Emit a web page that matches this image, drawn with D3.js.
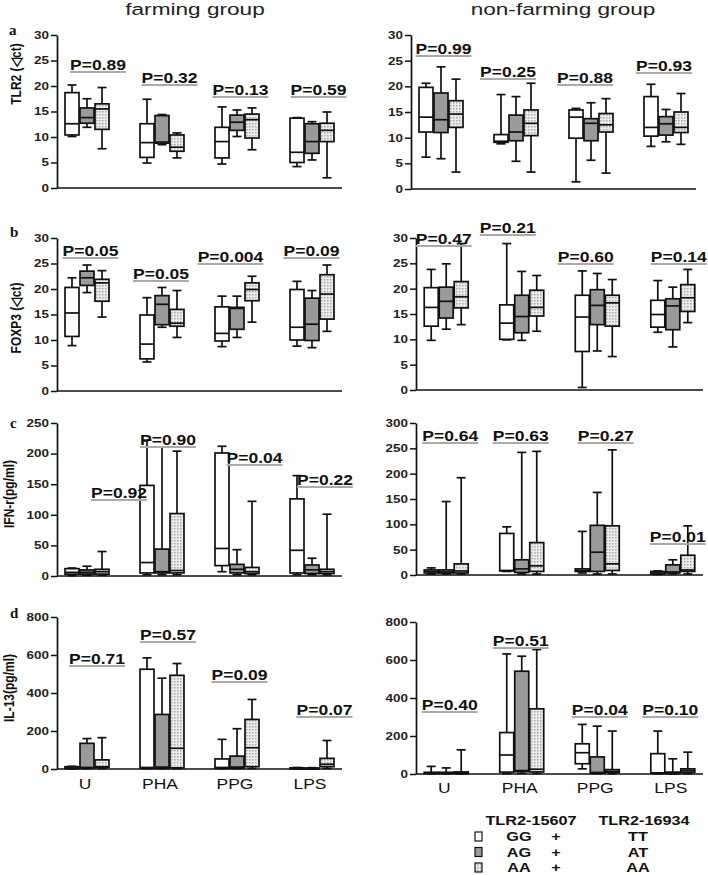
<!DOCTYPE html>
<html><head><meta charset="utf-8">
<script src="https://cdn.jsdelivr.net/npm/d3@7"></script>
<style>body{margin:0;background:#fff}svg{display:block}</style>
</head><body>
<script>
// ---------- DATA ----------
const categories = ["U", "PHA", "PPG", "LPS"];
const genotypes = ["GG", "AG", "AA"];
// each box: [lower whisker, Q1, median, Q3, upper whisker]; per category -> [GG, AG, AA]
const tlr2Farming = [
  [[10.1,10.4,12.6,18.7,20.2],[11.9,12.7,13.8,15.7,17.5],[7.7,11.5,15.5,16.5,19.7]],
  [[4.9,6.0,8.9,12.6,17.4],[8.5,8.8,9.0,14.2,14.4],[5.9,7.2,8.0,10.4,10.8]],
  [[4.7,5.9,9.1,11.9,15.9],[10.1,11.3,12.9,14.3,15.3],[7.5,9.8,13.4,14.5,15.7]],
  [[4.2,5.0,7.0,13.7,13.8],[5.5,6.8,9.1,12.6,13.0],[2.0,9.1,11.3,12.7,14.9]]
];
const tlr2NonFarming = [
  [[6.2,11.1,14.0,19.8,20.6],[5.9,11.0,13.5,18.7,23.8],[3.3,12.0,14.6,17.2,21.4]],
  [[8.8,9.1,9.3,10.6,18.4],[5.4,9.4,11.1,14.4,18.0],[3.3,10.4,12.8,15.4,20.6]],
  [[1.4,9.9,14.0,15.4,15.7],[5.6,9.4,12.8,13.7,16.8],[3.1,11.1,12.5,14.7,17.6]],
  [[8.3,10.3,12.0,18.0,20.4],[9.2,10.5,12.7,14.1,15.5],[8.7,11.0,12.0,15.0,18.6]]
];
const foxp3Farming = [
  [[8.9,10.7,15.3,20.3,22.2],[19.3,20.7,22.2,23.5,24.7],[14.5,17.6,21.2,21.9,23.6]],
  [[5.7,6.3,9.2,14.9,18.3],[12.5,13.0,17.0,18.7,20.3],[10.5,12.7,13.3,16.0,19.7]],
  [[8.7,9.8,11.3,16.5,18.6],[10.5,12.1,16.2,16.4,18.6],[13.5,17.7,19.9,21.2,22.5]],
  [[8.8,10.0,12.5,19.9,21.5],[8.5,9.9,13.1,18.2,19.7],[11.7,14.1,19.0,22.8,24.7]]
];
const foxp3NonFarming = [
  [[9.8,12.6,16.3,20.2,23.8],[12.0,14.2,17.5,20.3,24.9],[12.9,16.2,18.4,21.4,28.9]],
  [[9.9,10.0,13.2,16.8,28.9],[9.8,11.3,14.5,18.7,23.4],[11.6,14.6,16.3,19.7,22.6]],
  [[0.5,7.6,14.4,18.7,23.5],[7.7,12.9,16.7,19.8,23.0],[6.6,12.6,17.2,18.7,21.8]],
  [[11.4,12.4,14.9,17.7,21.6],[8.5,11.9,16.6,18.0,20.3],[13.3,15.5,18.2,20.8,23.8]]
];
const ifnFarming = [
  [[0.5,3,6,12,13],[1,3,6,10,16],[1,3,7,11,40]],
  [[2,5,22,148,222],[2,5,7,44,211],[2,5,9,102,204]],
  [[7,17,45,201,212],[2,5,11,19,43],[2,4,7,14,122]],
  [[2,5,42,126,164],[2,4,10,18,29],[2,4,7,11,101]]
];
const ifnNonFarming = [
  [[2,4,7,10,14],[2,4,6,10,145],[2,4,8,22,192]],
  [[7,8,9,82,95],[2,5,12,30,242],[2,7,18,64,244]],
  [[4,7,9,12,86],[2,7,45,98,163],[2,9,22,97,247]],
  [[1,2,4,7,8],[2,4,6,20,30],[2,7,10,39,97]]
];
const il13Farming = [
  [[0,2,5,12,14],[2,5,8,135,160],[3,8,12,48,165]],
  [[2,4,8,525,585],[2,4,10,287,478],[2,6,109,493,555]],
  [[2,4,8,53,156],[2,4,10,68,212],[3,12,112,261,366]],
  [[0,1,3,6,8],[0,1,3,5,7],[3,12,25,56,150]]
];
const il13NonFarming = [
  [[1,2,5,9,40],[1,2,5,9,32],[1,2,5,11,127]],
  [[2,10,100,218,632],[3,12,18,541,620],[3,11,25,343,655]],
  [[27,54,112,159,261],[2,4,8,90,252],[2,9,14,23,226]],
  [[1,3,6,107,226],[1,2,5,10,80],[2,9,18,27,115]]
];
const tlr2FarmingP = ["0.89","0.32","0.13","0.59"];
const tlr2NonFarmingP = ["0.99","0.25","0.88","0.93"];
const foxp3FarmingP = ["0.05","0.05","0.004","0.09"];
const foxp3NonFarmingP = ["0.47","0.21","0.60","0.14"];
const ifnFarmingP = ["0.92","0.90","0.04","0.22"];
const ifnNonFarmingP = ["0.64","0.63","0.27","0.01"];
const il13FarmingP = ["0.71","0.57","0.09","0.07"];
const il13NonFarmingP = ["0.40","0.51","0.04","0.10"];
const ctTicks = [0,5,10,15,20,25,30];
const ifnFarmingTicks = [0,50,100,150,200,250];
const ifnNonFarmingTicks = [0,50,100,150,200,250,300];
const il13Ticks = [0,200,400,600,800];
const groupTitles = ["farming group", "non-farming group"];
const panelLetters = ["a","b","c","d"];
const yTitles = ["TLR2 (\u25C1ct)", "FOXP3 (\u25C1ct)", "IFN-r(pg/ml)", "IL-13(pg/ml)"];
const legendHeader = ["TLR2-15607", "TLR2-16934"];
const legendRows = [["GG","+","TT"],["AG","+","AT"],["AA","+","AA"]];

// ---------- LAYOUT ----------
const W = 708, H = 875, SX = 1.28;
const L = {x0:57, x1:342}, R1 = {x0:411, x1:696}, R = {x0:416, x1:703};
const panels = [
  {data:tlr2Farming, p:tlr2FarmingP, ticks:ctTicks, yt:35, yb:188, ...L, pOff:[11,7.5,3.5,6.5], pY:[70,83,95,95]},
  {data:tlr2NonFarming, p:tlr2NonFarmingP, ticks:ctTicks, yt:35, yb:189, ...R1, pOff:[2.5,-8,-6,-2], pY:[54,77,83,71]},
  {data:foxp3Farming, p:foxp3FarmingP, ticks:ctTicks, yt:238, yb:391, ...L, pOff:[3.5,-1,-6.5,-0.5], pY:[256,279,262,256]},
  {data:foxp3NonFarming, p:foxp3NonFarmingP, ticks:ctTicks, yt:238, yb:390, ...R, pOff:[-2.5,-14,-11.5,6], pY:[244,233,262,262]},
  {data:ifnFarming, p:ifnFarmingP, ticks:ifnFarmingTicks, yt:423, yb:576, ...L, pOff:[32,6,17.5,13], pY:[498,445,463,485]},
  {data:ifnNonFarming, p:ifnNonFarmingP, ticks:ifnNonFarmingTicks, yt:423, yb:575, ...R, pOff:[4,-1,8.5,5], pY:[441,441,441,542]},
  {data:il13Farming, p:il13FarmingP, ticks:il13Ticks, yt:617, yb:769, ...L, pOff:[10,6,2.5,12.5], pY:[664,640,680,715], xLab:789},
  {data:il13NonFarming, p:il13NonFarmingP, ticks:il13Ticks, yt:622, yb:774, ...R, pOff:[3.5,-1,2.5,-2.5], pY:[710,646,715,715], xLab:793}
];
const yTitlePos = [{x:21,y:74},{x:21,y:318},{x:14,y:494},{x:14,y:688}];
const letterPos = [{x:9,y:35},{x:10,y:237},{x:10,y:428},{x:10,y:618}];

const svg = d3.select("body").append("svg").attr("width", W).attr("height", H);
const defs = svg.append("defs");
const pat = defs.append("pattern").attr("id","dots").attr("width",3).attr("height",3).attr("patternUnits","userSpaceOnUse");
pat.append("rect").attr("width",3).attr("height",3).attr("fill","#ececec");
pat.append("rect").attr("width",1.5).attr("height",1.5).attr("fill","#a8a8a8");
const fills = ["#ffffff", "#9a9a9a", "url(#dots)"];
const FONT = "Liberation Sans, Arial, Helvetica, sans-serif";

function stext(g, x, y, str, o) {
  return g.append("text")
    .attr("transform", `translate(${x},${y}) scale(${o.sx ?? SX},1)`)
    .attr("text-anchor", o.anchor || "start")
    .attr("font-family", o.family || FONT)
    .attr("font-size", o.size)
    .attr("font-weight", o.weight || "normal")
    .attr("fill", o.fill || "#111")
    .text(str);
}

// titles
stext(svg, 195, 15, groupTitles[0], {size:17, anchor:"middle", fill:"#222", sx:1.33});
stext(svg, 563, 15, groupTitles[1], {size:17, anchor:"middle", fill:"#222", sx:1.33});

panels.forEach((P, pi) => {
  const g = svg.append("g");
  const y = d3.scaleLinear().domain([0, d3.max(P.ticks)]).range([P.yb, P.yt]);
  const x = d3.scalePoint().domain(categories).range([P.x0, P.x1]).padding(0.4);
  const off = d3.scalePoint().domain(genotypes).range([-15, 15]);
  const bw = 14, cap = 9;

  // y axis
  const ax = g.append("g").attr("transform", `translate(${P.x0},0)`)
    .call(d3.axisLeft(y).tickValues(P.ticks).tickSize(6).tickSizeOuter(0).tickPadding(2));
  ax.select(".domain").attr("stroke","#111").attr("stroke-width",1.7);
  ax.selectAll(".tick line").attr("stroke","#111").attr("stroke-width",1.5);
  ax.selectAll(".tick text")
    .attr("font-family", FONT).attr("font-size", 10.5).attr("font-weight","bold").attr("fill","#222")
    .attr("x", -8 / SX).attr("transform", `scale(${SX},1)`);
  // x axis line
  g.append("line").attr("x1", P.x0).attr("x2", P.x1).attr("y1", y(0)).attr("y2", y(0))
    .attr("stroke","#111").attr("stroke-width",1.7);

  const labels = g.append("g");
  // boxes
  categories.forEach((c, ci) => {
    genotypes.forEach((gt, gi) => {
      const [lo, q1, md, q3, hi] = P.data[ci][gi];
      const cx = x(c) + off(gt);
      const bg = g.append("g").attr("stroke","#111").attr("stroke-width",1.7);
      bg.append("line").attr("x1",cx).attr("x2",cx).attr("y1",y(lo)).attr("y2",y(hi));
      bg.append("line").attr("x1",cx-cap/2).attr("x2",cx+cap/2).attr("y1",y(hi)).attr("y2",y(hi));
      bg.append("line").attr("x1",cx-cap/2).attr("x2",cx+cap/2).attr("y1",y(lo)).attr("y2",y(lo));
      bg.append("rect").attr("x",cx-bw/2).attr("width",bw).attr("y",y(q3)).attr("height",Math.max(0.5,y(q1)-y(q3)))
        .attr("fill", fills[gi]);
      bg.append("line").attr("x1",cx-bw/2).attr("x2",cx+bw/2).attr("y1",y(md)).attr("y2",y(md));
    });
    // P label with grey underline
    const tx = x(c) + P.pOff[ci], ty = P.pY[ci];
    const ul = labels.append("line");
    const t = stext(labels, tx, ty, "P=" + P.p[ci], {size:14, weight:"bold", anchor:"middle", sx:1.25, fill:"#111"});
    const w = t.node().getComputedTextLength() * 1.25;
    ul.attr("x1", tx - w/2).attr("x2", tx + w/2).attr("y1", ty + 2).attr("y2", ty + 2)
      .attr("stroke","#aaa").attr("stroke-width",2);
    if (P.xLab) {
      stext(g, x(c) - 2, P.xLab, c, {size:14, anchor:"middle", sx:1.25, fill:"#111"});
    }
  });
  labels.raise();
});

// y titles and letters
yTitles.forEach((t, i) => {
  svg.append("text")
    .attr("transform", `translate(${yTitlePos[i].x},${yTitlePos[i].y}) scale(${SX},1) rotate(-90)`)
    .attr("text-anchor","middle").attr("font-family",FONT).attr("font-weight","bold")
    .attr("font-size", 12).attr("fill","#111").text(t);
  svg.append("text").attr("x", letterPos[i].x).attr("y", letterPos[i].y)
    .attr("font-family","Liberation Serif, Times New Roman, serif").attr("font-weight","bold")
    .attr("font-size",15).attr("fill","#111").text(panelLetters[i]);
});

// legend
const lg = svg.append("g");
stext(lg, 531, 825, legendHeader[0], {size:12.5, weight:"bold", anchor:"middle", sx:1.3});
stext(lg, 644, 825, legendHeader[1], {size:12.5, weight:"bold", anchor:"middle", sx:1.3});
legendRows.forEach((r, i) => {
  const by = 841 + i * 15.5;
  lg.append("rect").attr("x", 475).attr("y", by - 9).attr("width", 7).attr("height", 9)
    .attr("fill", fills[i]).attr("stroke","#111").attr("stroke-width",1.2);
  stext(lg, 519, by, r[0], {size:12.5, weight:"bold", anchor:"middle", sx:1.3});
  stext(lg, 556, by, r[1], {size:12.5, weight:"bold", anchor:"middle", sx:1.3});
  stext(lg, 638, by, r[2], {size:12.5, weight:"bold", anchor:"middle", sx:1.3});
});
</script>
</body></html>
